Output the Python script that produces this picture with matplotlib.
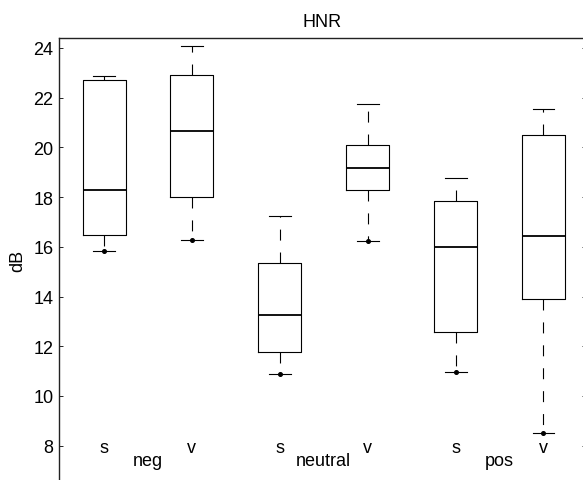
import matplotlib
matplotlib.use("Agg")
import matplotlib.pyplot as plt

plt.rcParams['font.family'] = ['Liberation Sans', 'DejaVu Sans']
plt.rcParams['font.size'] = 13

# HNR box statistics (dB)
groups = ['neg', 'neutral', 'pos']
sub_labels = ['s', 'v', 's', 'v', 's', 'v']
whislo = [15.82, 16.26, 10.89, 16.22, 10.95, 8.51]
q1 = [16.49, 18.00, 11.75, 18.27, 12.56, 13.89]
med = [18.27, 20.67, 13.24, 19.18, 15.98, 16.43]
q3 = [22.72, 22.89, 15.34, 20.08, 17.86, 20.49]
whishi = [22.87, 24.08, 17.25, 21.73, 18.78, 21.56]
yticks = [8, 10, 12, 14, 16, 18, 20, 22, 24]

W, H = 583, 481
fig = plt.figure(figsize=(W / 100, H / 100), dpi=100)
ax = fig.add_axes([59.3 / W, 0.0, (585.5 - 59.3) / W, 1 - 38.7 / H])

stats = []
for i in range(len(med)):
    stats.append({'whislo': whislo[i], 'q1': q1[i], 'med': med[i],
                  'q3': q3[i], 'whishi': whishi[i], 'fliers': []})
positions = list(range(1, len(med) + 1))

lw = 0.8
ax.bxp(stats, positions=positions, widths=0.49, capwidths=0.25,
       showfliers=False, manage_ticks=False,
       boxprops=dict(color='black', linewidth=lw),
       medianprops=dict(color='black', linewidth=1.3),
       whiskerprops=dict(color='black', linewidth=lw,
                         linestyle=(0, (7.9 / lw, 8.6 / lw))),
       capprops=dict(color='black', linewidth=lw))
# dot at the lower whisker ends
ax.plot(positions, whislo, 'o', color='black', markersize=2.6, zorder=3)

ax.set_xlim(0.491, 6.478)
ax.set_ylim(6.62, 24.41)
ax.set_xticks([])
ax.set_yticks(yticks)
ax.tick_params(axis='y', direction='in', length=3, width=0.6,
               left=True, right=True, pad=4.3, labelsize=13)

for s in ['bottom', 'right']:
    ax.spines[s].set_visible(False)
for s in ['top', 'left']:
    ax.spines[s].set_linewidth(1.0)
    ax.spines[s].set_color('#222222')

# sub labels (s / v) and group labels sit inside the axes
for p, lab in zip(positions, sub_labels):
    ax.text(p, 7.75, lab, ha='center', va='baseline', fontsize=13)
for k, g in enumerate(groups):
    ax.text(1.5 + 2 * k, 7.22, g, ha='center', va='baseline', fontsize=13)

ax.set_title('HNR', fontsize=13, pad=8.4)
fig.text(17.5 / W, 1 - 261 / H, 'dB', rotation=90, ha='center', va='center',
         fontsize=13)

fig.savefig('out.png', dpi=100)
